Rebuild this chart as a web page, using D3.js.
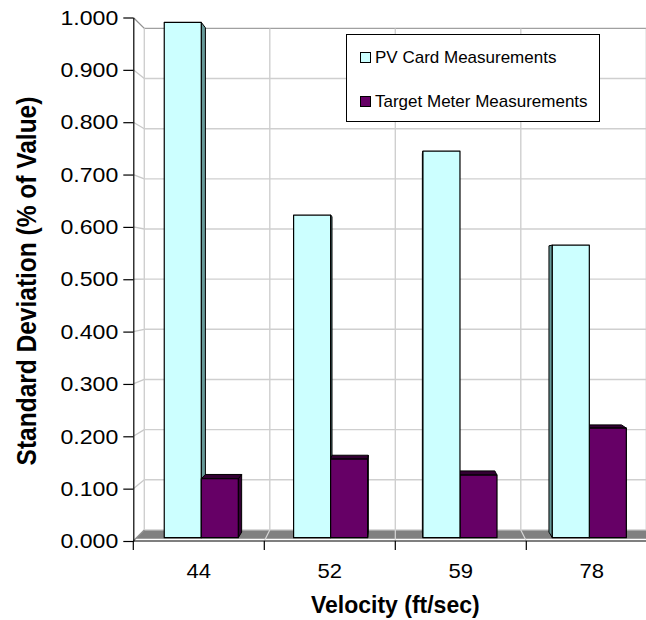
<!DOCTYPE html>
<html>
<head>
<meta charset="utf-8">
<script src="https://cdn.jsdelivr.net/npm/d3@7/dist/d3.min.js"></script>
<style>
  html, body { margin: 0; padding: 0; background: #fff; }
  svg { display: block; font-family: "Liberation Sans", Arial, sans-serif; }
</style>
</head>
<body>
<svg id="chart" width="646" height="620"></svg>
<script>
// ---- data ----
const categories = ["44", "52", "59", "78"];
const seriesNames = ["PV Card Measurements", "Target Meter Measurements"];
const pvValues = [0.997, 0.624, 0.748, 0.566];
const tmValues = [0.114, 0.152, 0.121, 0.212];
const yTickValues = [0, 0.1, 0.2, 0.3, 0.4, 0.5, 0.6, 0.7, 0.8, 0.9, 1.0];
const xTitle = "Velocity (ft/sec)";
const yTitle = "Standard Deviation (% of Value)";

// ---- styles ----
const frontColors = ["#CCFFFF", "#660066"];
const sideColors = ["#669999", "#330033"];
const topColors = ["#99CCCC", "#330033"];

const svg = d3.select("#chart");

// front-plane scales
const x = d3.scaleBand().domain(categories).range([133.3, 657.3])
  .paddingInner(0.4275).paddingOuter(0.21375);
const xs = d3.scaleBand().domain([0, 1]).range([0, x.bandwidth()]);
const y = d3.scaleLinear().domain([0, 1]).range([541, 17.5]);

// perspective projection (depth d: 0 = front, 1 = back wall)
const cx = 395.3, cy = 277, k = 0.042;
const s = d => 1 - k * d;
const proj = (X, Y, d) => [cx + (X - cx) * s(d), cy + (Y - cy) * s(d)];
const poly = pts => pts.map(p => p.join(",")).join(" ");

const x0 = x.range()[0], x1 = x.range()[1];
const bounds = d3.range(categories.length + 1).map(i => x0 + i * x.step());

// floor
const dF = 0.2;
svg.append("polygon")
  .attr("points", poly([proj(x0, y(0), dF), proj(x1, y(0), dF), proj(x1, y(0), 1), proj(x0, y(0), 1)]))
  .attr("fill", "#808080");

// back wall horizontal gridlines
svg.append("g").selectAll("line").data(yTickValues).join("line")
  .attr("x1", t => proj(x0, y(t), 1)[0]).attr("y1", t => proj(x0, y(t), 1)[1])
  .attr("x2", t => proj(x1, y(t), 1)[0]).attr("y2", t => proj(x1, y(t), 1)[1])
  .attr("stroke", t => t === 1 ? "#A0A0A0" : "#CFCFCF").attr("stroke-width", 1.4);

// side wall gridlines (diagonals)
svg.append("g").selectAll("line").data(yTickValues).join("line")
  .attr("x1", t => proj(x0, y(t), 0)[0]).attr("y1", t => proj(x0, y(t), 0)[1])
  .attr("x2", t => proj(x0, y(t), 1)[0]).attr("y2", t => proj(x0, y(t), 1)[1])
  .attr("stroke", t => (t === 1 || t === 0) ? "#909090" : "#C8C8C8").attr("stroke-width", 1.3);

// back wall vertical gridlines
svg.append("g").selectAll("line").data(bounds).join("line")
  .attr("x1", b => proj(b, y(0), 1)[0]).attr("y1", b => proj(b, y(0), 1)[1])
  .attr("x2", b => proj(b, y(1), 1)[0]).attr("y2", b => proj(b, y(1), 1)[1])
  .attr("stroke", "#CFCFCF").attr("stroke-width", 1.4);

// floor gridlines
svg.append("g").selectAll("line").data(bounds.slice(1)).join("line")
  .attr("x1", b => proj(b, y(0), 0)[0]).attr("y1", b => proj(b, y(0), 0)[1])
  .attr("x2", b => proj(b, y(0), 1)[0]).attr("y2", b => proj(b, y(0), 1)[1])
  .attr("stroke", "#D8D8D8").attr("stroke-width", 1.2);

// bars
const bars = [];
categories.forEach((c, i) => {
  [pvValues[i], tmValues[i]].forEach((v, j) => {
    const X0 = x(c) + xs(j), X1 = X0 + xs.bandwidth();
    bars.push({ c, j, v, X0, X1 });
  });
});
bars.sort((a, b) => Math.abs((b.X0 + b.X1) / 2 - cx) - Math.abs((a.X0 + a.X1) / 2 - cx));

const d0 = 0.3, d1 = 0.8;
const gBars = svg.append("g");
bars.forEach(b => {
  const g = gBars.append("g");
  const Y0 = y(0), Y1 = y(b.v);
  if (b.X1 < cx) {
    g.append("polygon").attr("points", poly([proj(b.X1, Y1, d0), proj(b.X1, Y1, d1), proj(b.X1, Y0, d1), proj(b.X1, Y0, d0)]))
      .attr("fill", sideColors[b.j]).attr("stroke", "#000").attr("stroke-width", 1).attr("stroke-linejoin", "round");
  } else if (b.X0 > cx) {
    g.append("polygon").attr("points", poly([proj(b.X0, Y1, d0), proj(b.X0, Y1, d1), proj(b.X0, Y0, d1), proj(b.X0, Y0, d0)]))
      .attr("fill", sideColors[b.j]).attr("stroke", "#000").attr("stroke-width", 1).attr("stroke-linejoin", "round");
  }
  if (Y1 > cy) {
    g.append("polygon").attr("points", poly([proj(b.X0, Y1, d0), proj(b.X1, Y1, d0), proj(b.X1, Y1, d1), proj(b.X0, Y1, d1)]))
      .attr("fill", topColors[b.j]).attr("stroke", "#000").attr("stroke-width", 1).attr("stroke-linejoin", "round");
  }
  g.append("polygon").attr("points", poly([proj(b.X0, Y1, d0), proj(b.X1, Y1, d0), proj(b.X1, Y0, d0), proj(b.X0, Y0, d0)]))
    .attr("fill", frontColors[b.j]).attr("stroke", "#000").attr("stroke-width", 1.2).attr("stroke-linejoin", "round");
});

// y axis
const sx = 1.1;
const yAxis = d3.axisLeft(y).tickValues(yTickValues).tickFormat(d3.format(".3f"))
  .tickSize(10).tickSizeOuter(0).tickPadding(5);
const gy = svg.append("g").attr("transform", `translate(${x0},0)`).call(yAxis);
gy.selectAll("text").attr("font-size", 21).attr("fill", "#000")
  .attr("font-family", '"Liberation Sans", Arial, sans-serif')
  .attr("x", -15 / sx).attr("transform", `scale(${sx},1)`);
gy.selectAll("line, path").attr("stroke", "#000").attr("stroke-width", 1.2);

// x axis
const xAxisG = svg.append("g");
xAxisG.append("line").attr("x1", x0).attr("x2", x1).attr("y1", y(0)).attr("y2", y(0))
  .attr("stroke", "#000").attr("stroke-width", 1.2);
xAxisG.selectAll(".tk").data(bounds).join("line").attr("class", "tk")
  .attr("x1", b => b).attr("x2", b => b).attr("y1", y(0)).attr("y2", y(0) + 9)
  .attr("stroke", "#000").attr("stroke-width", 1.2);
xAxisG.selectAll(".lbl").data(categories).join("text").attr("class", "lbl")
  .attr("transform", c => `translate(${x(c) + x.bandwidth() / 2},578) scale(1.05,1)`)
  .attr("text-anchor", "middle").attr("font-size", 21).attr("fill", "#000")
  .text(c => c);

// axis titles
svg.append("text").attr("x", cx).attr("y", 613).attr("text-anchor", "middle")
  .attr("font-size", 23).attr("font-weight", "bold").text(xTitle);
svg.append("text").attr("transform", "translate(36,281) scale(1.15,1) rotate(-90)")
  .attr("text-anchor", "middle").attr("font-size", 24.5).attr("font-weight", "bold").text(yTitle);

// legend
const lg = svg.append("g");
lg.append("rect").attr("x", 346.5).attr("y", 34.5).attr("width", 253).attr("height", 87)
  .attr("fill", "#fff").attr("stroke", "#000").attr("stroke-width", 1);
seriesNames.forEach((n, i) => {
  const yy = 52 + i * 44;
  lg.append("rect").attr("x", 360.5).attr("y", yy + 0.5).attr("width", 10).attr("height", 10)
    .attr("fill", frontColors[i]).attr("stroke", "#000").attr("stroke-width", 1);
  lg.append("text").attr("x", 375).attr("y", yy + 11).attr("font-size", 17).attr("fill", "#000").text(n);
});
</script>
</body>
</html>
